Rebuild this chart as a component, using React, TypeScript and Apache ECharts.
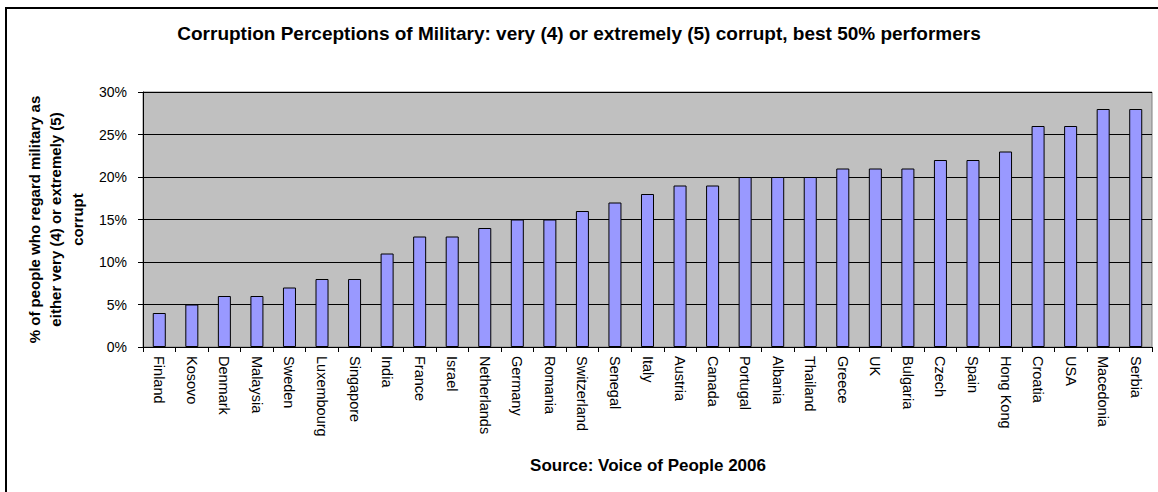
import React, { useEffect, useRef } from "react";
import * as echarts from "echarts";

const countries = [
  "Finland", "Kosovo", "Denmark", "Malaysia", "Sweden", "Luxembourg", "Singapore", "India",
  "France", "Israel", "Netherlands", "Germany", "Romania", "Switzerland", "Senegal", "Italy",
  "Austria", "Canada", "Portugal", "Albania", "Thailand", "Greece", "UK", "Bulgaria",
  "Czech", "Spain", "Hong Kong", "Croatia", "USA", "Macedonia", "Serbia",
];
const values = [
  4, 5, 6, 6, 7, 8, 8, 11,
  13, 13, 14, 15, 15, 16, 17, 18,
  19, 19, 20, 20, 20, 21, 21, 21,
  22, 22, 23, 26, 26, 28, 28,
];
const titleText = "Corruption Perceptions of Military: very (4) or extremely (5) corrupt, best 50% performers";
const yAxisTitle = "% of people who regard military as\neither very (4) or extremely (5)\ncorrupt";
const sourceText = "Source: Voice of People 2006";

export default function App() {
  const ref = useRef<HTMLDivElement>(null);
  useEffect(() => {
    document.body.style.margin = "0";
    const chart = echarts.init(ref.current!, null, { renderer: "svg" });
    const font = "Arial, 'Liberation Sans', sans-serif";
    chart.setOption({
      animation: false,
      backgroundColor: "#ffffff",
      graphic: [
        {
          type: "rect",
          shape: { x: 6, y: 8, width: 1300, height: 600 },
          style: { fill: "none", stroke: "#000", lineWidth: 2 },
          silent: true,
          z: -1,
        },
        {
          type: "text",
          x: 579,
          y: 33,
          style: {
            text: titleText,
            fontFamily: font,
            fontSize: 19,
            fontWeight: "bold",
            fill: "#000",
            align: "center",
            verticalAlign: "middle",
          },
        },
        {
          type: "text",
          x: 648,
          y: 465,
          style: {
            text: sourceText,
            fontFamily: font,
            fontSize: 17,
            fontWeight: "bold",
            fill: "#000",
            align: "center",
            verticalAlign: "middle",
          },
        },
      ],
      grid: {
        left: 143,
        top: 92,
        right: 6,
        bottom: 145,
        show: true,
        backgroundColor: "#C0C0C0",
        borderColor: "#808080",
        borderWidth: 1,
      },
      xAxis: {
        type: "category",
        data: countries,
        axisLine: { lineStyle: { color: "#000", width: 1 } },
        axisTick: { show: true, alignWithLabel: false, length: 5, lineStyle: { color: "#000" } },
        axisLabel: {
          rotate: -90,
          interval: 0,
          margin: 9,
          fontFamily: font,
          fontSize: 14.5,
          color: "#000",
        },
      },
      yAxis: {
        type: "value",
        min: 0,
        max: 30,
        interval: 5,
        name: yAxisTitle,
        nameLocation: "middle",
        nameRotate: 90,
        nameGap: 55,
        nameTextStyle: {
          fontFamily: font,
          fontSize: 15,
          fontWeight: "bold",
          color: "#000",
          lineHeight: 21.5,
          align: "center",
        },
        axisLine: { show: true, lineStyle: { color: "#000", width: 1 } },
        axisTick: { show: true, length: 5, lineStyle: { color: "#000" } },
        axisLabel: {
          formatter: "{value}%",
          margin: 16,
          fontFamily: font,
          fontSize: 14,
          color: "#000",
        },
        splitLine: { show: true, lineStyle: { color: "#000", width: 1 } },
      },
      series: [
        {
          type: "bar",
          data: values,
          barWidth: "40%",
          itemStyle: { color: "#9999FF", borderColor: "#000", borderWidth: 1 },
        },
      ],
    });
    return () => chart.dispose();
  }, []);
  return <div ref={ref} style={{ position: "absolute", left: 0, top: 0, width: 1158, height: 492 }} />;
}
